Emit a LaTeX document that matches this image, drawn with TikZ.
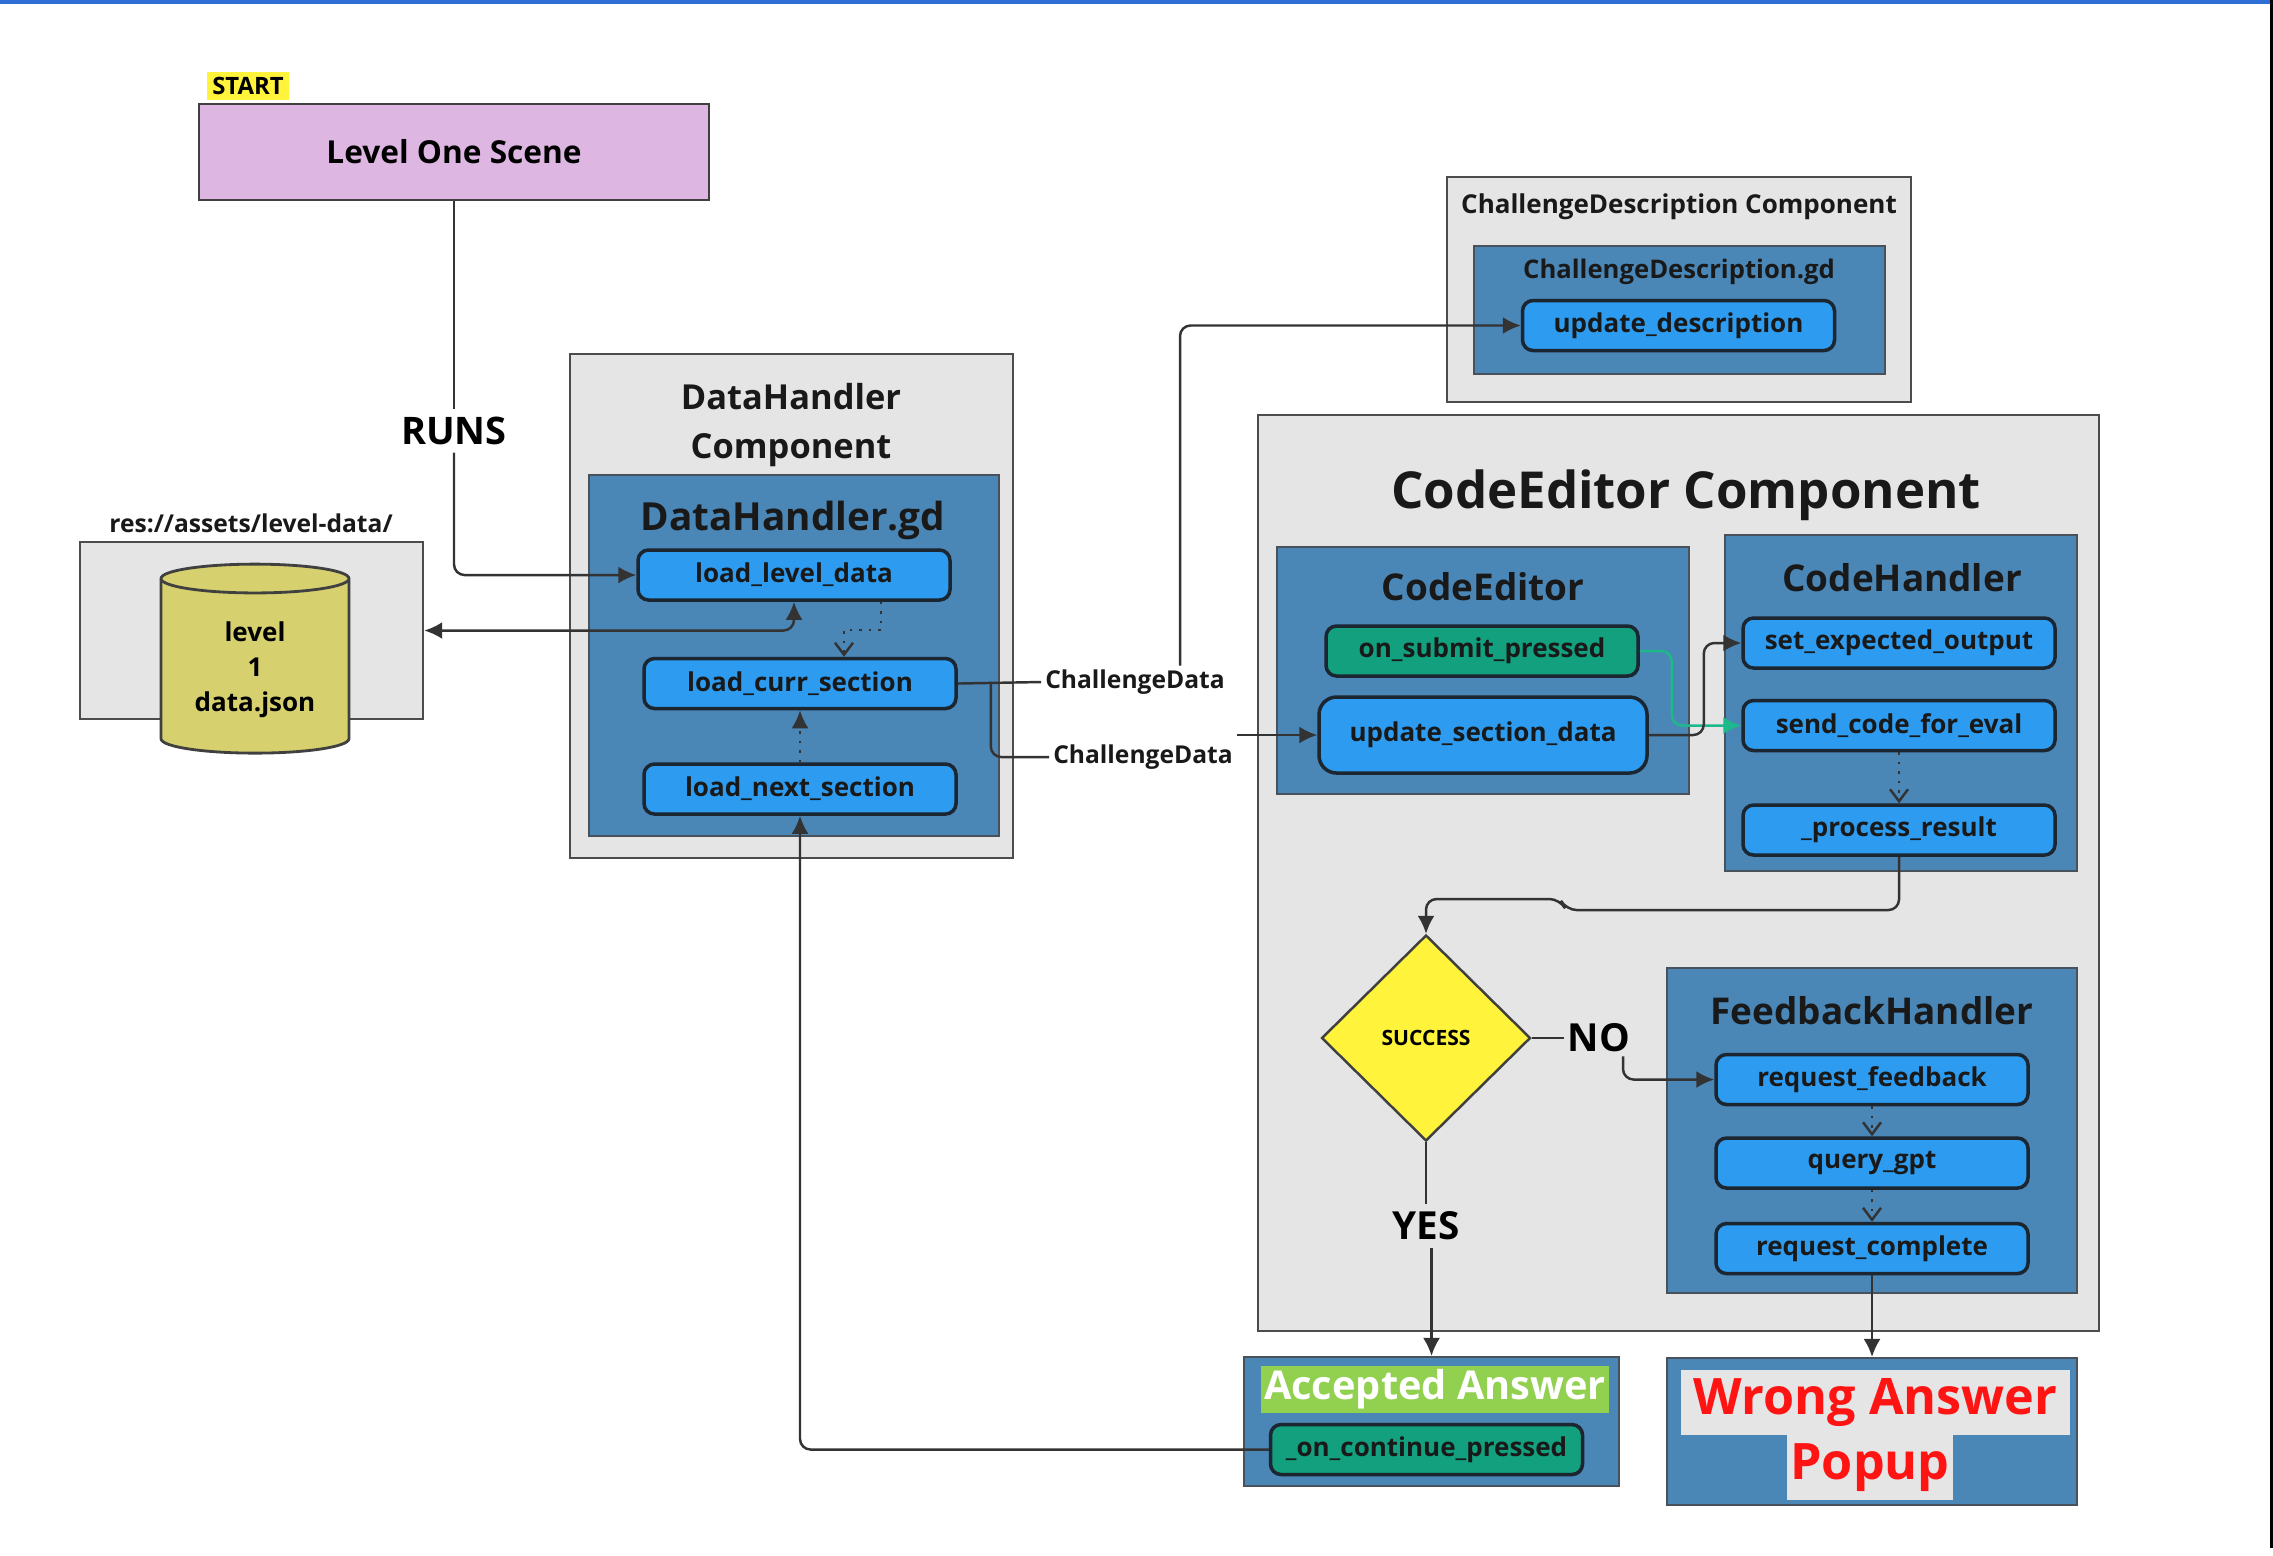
\documentclass[tikz,border=0pt]{standalone}
\usepackage{fontspec}
\setmainfont{Open Sans}
\usepackage{tikz}
\usetikzlibrary{arrows.meta,positioning,shapes.geometric,calc}
\newcommand\fsz[2]{\fontsize{#1}{#2}\selectfont}
\definecolor{compgray}{HTML}{E5E5E5}
\definecolor{scriptblue}{HTML}{4A86B6}
\definecolor{fnblue}{HTML}{2D9CF0}
\definecolor{fngreen}{HTML}{12A07E}
\definecolor{flowgreen}{HTML}{1DB98B}
\definecolor{okgreen}{HTML}{92D050}
\definecolor{scenepurple}{HTML}{DDB6E2}
\definecolor{dbyellow}{HTML}{D7D06E}
\definecolor{decyellow}{HTML}{FFF33B}
\definecolor{wrongred}{HTML}{FF1414}
\definecolor{edge}{HTML}{333333}
\definecolor{fnedge}{HTML}{1B2631}
\definecolor{frameblue}{HTML}{2F6FD3}
\tikzset{
  >={Latex[length=1.8mm,width=1.7mm]},
  comp/.style={draw=black!70, fill=compgray, line width=0.7pt},
  script/.style={draw=fnedge!80, fill=scriptblue, line width=0.6pt},
  fn/.style={draw=fnedge, fill=fnblue, rounded corners=3pt, line width=1pt, minimum width=3.12cm, minimum height=0.5cm, inner sep=0pt, font=\bfseries\fsz{7.4}{9}, text=black!90},
  fngr/.style={fn, fill=fngreen},
  ttl/.style={font=\bfseries\fsz{10.5}{13.5}, align=center, inner sep=0pt, text=black!90},
  lbl/.style={font=\bfseries\fsz{7}{9}, inner sep=1pt, text=black!90},
  plain/.style={line width=0.7pt, draw=edge},
  arr/.style={->, line width=0.7pt, draw=edge, rounded corners=3pt},
  dotarr/.style={-{Straight Barb[length=1.2mm,width=1.8mm]}, dotted, line width=0.7pt, draw=edge}
}
\begin{document}
\begin{tikzpicture}[x=1cm,y=1cm]
\useasboundingbox (0,0) rectangle (22.73,-15.55);
\fill[frameblue] (0,0) rectangle (22.73,-0.035);
\fill[black] (22.70,0) rectangle (22.73,-15.48);

% scene
\node[draw=black!75, line width=0.8pt, fill=scenepurple, minimum width=5.10cm, minimum height=0.96cm, font=\bfseries\fsz{9}{11}] (scene) at (4.54,-1.52) {Level One Scene};
\node[fill=decyellow, inner sep=1.6pt, font=\bfseries\fsz{6.8}{7}] (start) at (2.48,-0.86) {START};
\node[font=\bfseries\fsz{10.8}{13}, inner sep=2pt] (runs) at (4.54,-4.31) {RUNS};

% level data folder
\node[comp, minimum width=3.43cm, minimum height=1.77cm] (resbox) at (2.515,-6.305) {};
\node[lbl] (reslbl) at (2.51,-5.23) {res://assets/level-data/};
\node[cylinder, shape border rotate=90, draw=black!75, line width=0.8pt, fill=dbyellow, minimum width=1.88cm, minimum height=1.89cm, shape aspect=0.2, align=center, font=\bfseries\fsz{7.4}{10}] (json) at (2.55,-6.70) {level\\1\\data.json};

% DataHandler
\node[comp, minimum width=4.43cm, minimum height=5.04cm] (dhcomp) at (7.915,-6.06) {};
\node[ttl, font=\bfseries\fsz{9.8}{13.7}] (dhttl) at (7.91,-4.25) {DataHandler\\Component};
\node[script, minimum width=4.10cm, minimum height=3.61cm] (dhgd) at (7.94,-6.555) {};
\node[ttl, font=\bfseries\fsz{11}{13}] (dhgdttl) at (7.93,-5.20) {DataHandler.gd};
\node[fn] (lld) at (7.94,-5.75) {load\_level\_data};
\node[fn, below=0.55cm of lld, xshift=0.06cm] (lcs) {load\_curr\_section};
\node[fn, below=0.52cm of lcs] (lns) {load\_next\_section};

% ChallengeDescription
\node[comp, minimum width=4.64cm, minimum height=2.25cm] (cdcomp) at (16.79,-2.895) {};
\node[ttl, font=\bfseries\fsz{7.4}{9}] (cdttl) at (16.79,-2.07) {ChallengeDescription Component};
\node[script, minimum width=4.11cm, minimum height=1.28cm] (cdgd) at (16.795,-3.10) {};
\node[ttl, font=\bfseries\fsz{7.3}{9}] (cdgdttl) at (16.79,-2.72) {ChallengeDescription.gd};
\node[fn] (ud) at (16.785,-3.255) {update\_description};

% CodeEditor
\node[comp, minimum width=8.41cm, minimum height=9.16cm] (cecomp) at (16.785,-8.73) {};
\node[ttl, font=\bfseries\fsz{14.5}{17}] (cecompttl) at (16.86,-4.95) {CodeEditor Component};
\node[script, minimum width=4.12cm, minimum height=2.47cm] (ce) at (14.83,-6.705) {};
\node[ttl] (cettl) at (14.83,-5.87) {CodeEditor};
\node[fngr] (osp) at (14.82,-6.51) {on\_submit\_pressed};
\node[fn, minimum width=3.28cm, minimum height=0.76cm, rounded corners=5pt] (usd) at (14.83,-7.35) {update\_section\_data};
\node[script, minimum width=3.52cm, minimum height=3.36cm] (ch) at (19.01,-7.03) {};
\node[ttl] (chttl) at (19.02,-5.78) {CodeHandler};
\node[fn] (sxo) at (18.99,-6.43) {set\_expected\_output};
\node[fn, below=0.29cm of sxo] (scd) {send\_code\_for\_eval};
\node[fn, below=0.51cm of scd] (pr) {\_process\_result};

% decision
\node[diamond, draw=black!75, line width=0.7pt, fill=decyellow, minimum width=2.09cm, minimum height=2.06cm, inner sep=0pt, font=\bfseries\fsz{6}{7}] (succ) at (14.26,-10.38) {SUCCESS};
\node[font=\bfseries\fsz{11}{13}, inner sep=1pt] (no) at (15.99,-10.38) {NO};
\node[font=\bfseries\fsz{11}{13}, inner sep=2pt] (yes) at (14.26,-12.26) {YES};

% feedback
\node[script, minimum width=4.10cm, minimum height=3.25cm] (fh) at (18.72,-11.305) {};
\node[ttl] (fhttl) at (18.72,-10.11) {FeedbackHandler};
\node[fn] (rf) at (18.72,-10.795) {request\_feedback};
\node[fn, below=0.30cm of rf] (qg) {query\_gpt};
\node[fn, below=0.32cm of qg] (rc) {request\_complete};

% results
\node[script, minimum width=3.75cm, minimum height=1.29cm] (acc) at (14.315,-14.215) {};
\node[fill=okgreen, text=white, minimum width=3.48cm, minimum height=0.47cm, inner sep=0pt, font=\bfseries\fsz{11.3}{13}] (accttl) at (14.35,-13.895) {Accepted Answer};
\node[fngr] (ocp) at (14.265,-14.495) {\_on\_continue\_pressed};
\node[script, minimum width=4.10cm, minimum height=1.47cm] (wrong) at (18.72,-14.315) {};
\node[fill=compgray, text=wrongred, minimum width=3.89cm, minimum height=0.65cm, inner sep=0pt, font=\bfseries\fsz{14.3}{16}] (wrong1) at (18.755,-14.025) {Wrong Answer};
\node[fill=compgray, text=wrongred, minimum width=1.66cm, minimum height=0.65cm, inner sep=0pt, font=\bfseries\fsz{14.3}{16}] (wrong2) at (18.70,-14.675) {Popup};

% ChallengeData labels
\node[lbl] (cd1) at (11.35,-6.82) {ChallengeData};
\node[lbl] (cd2) at (11.43,-7.57) {ChallengeData};

% connectors
\draw[plain] (scene.south) -- (runs.north);
\draw[arr] (runs.south) |- (lld.west);
\draw[arr, <->] (lld.south) |- (resbox.east);
\draw[dotarr] ([xshift=0.87cm]lld.south) -- ++(0,-0.28) -| ([xshift=0.44cm]lcs.north);
\draw[arr, dotted] (lns.north) -- (lcs.south);
\draw[plain] (lcs.east) -- (cd1.west);
\draw[arr] ([xshift=0.45cm]cd1.north) |- (ud.west);
\draw[plain, rounded corners=3pt] ([xshift=0.33cm]lcs.east) |- (cd2.west);
\draw[arr] (cd2.east |- usd.west) -- (usd.west);
\draw[arr, draw=flowgreen] (osp.east) -- ++(0.32,0) |- (scd.west);
\draw[arr] (usd.east) -- ++(0.55,0) |- (sxo.west);
\draw[dotarr] (scd.south) -- (pr.north);
\draw[arr] (pr.south) |- (15.66,-9.10) -- (15.60,-8.99) -| (succ.north);
\draw[plain] (succ.east) -- (no.west);
\draw[arr] ([xshift=0.24cm]no.south) |- (rf.west);
\draw[dotarr] (rf.south) -- (qg.north);
\draw[dotarr] (qg.south) -- (rc.north);
\draw[arr] (rc.south) -- (wrong.north);
\draw[plain] (succ.south) -- (yes.north);
\draw[arr] (yes.south -| acc.north) -- (acc.north);
\draw[arr] (ocp.west) -| (lns.south);
\end{tikzpicture}
\end{document}
